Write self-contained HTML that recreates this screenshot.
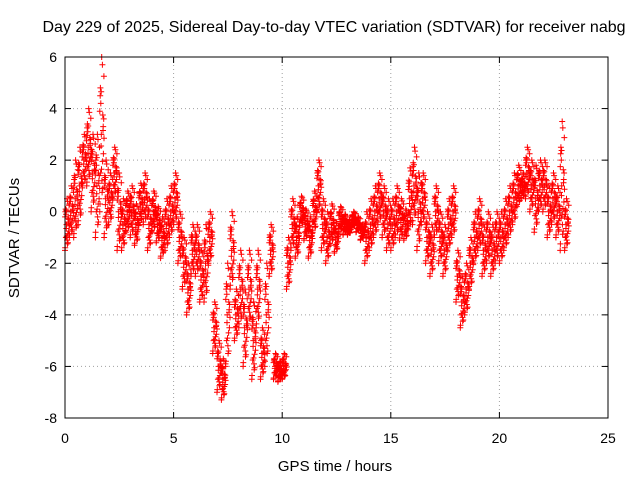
<!DOCTYPE html>
<html><head><meta charset="utf-8"><style>
body{margin:0;background:#fff;}
svg{display:block;font-family:"Liberation Sans",sans-serif;}
</style></head><body>
<svg id="chart" width="640" height="480" viewBox="0 0 640 480">
<text x="334" y="32" font-size="16" text-anchor="middle">Day 229 of 2025, Sidereal Day-to-day VTEC variation (SDTVAR) for receiver nabg</text>
<text transform="translate(19,238) rotate(-90)" font-size="15" text-anchor="middle">SDTVAR / TECUs</text>
<text x="335" y="471" font-size="15" text-anchor="middle">GPS time / hours</text>
<g id="grid"></g>
<g id="ticks"></g>
<path id="marks" fill="none" stroke="#ff0000" stroke-width="1"></path>
<rect x="65" y="57" width="543" height="361" fill="none" stroke="#000" stroke-width="1"></rect>
</svg>
<script>
const xTicks=[0,5,10,15,20,25];
const yTicks=[-8,-6,-4,-2,0,2,4,6];
const times=[];
for(let i=0;i<=115;i++)times.push(+(i*0.2).toFixed(1));
const centers=[-0.5,0,0.5,1,2,2.5,1.5,1,3,0.5,0.5,1.5,0,-0.5,0,0,-0.5,0.3,0.5,-0.5,0,-0.5,-1,-0.5,0,0.5,-1,-2,-3,-1.5,-1.5,-2.5,-2,-1,-4.5,-6,-6.5,-4,-1.5,-4,-3,-4.5,-3,-5,-3,-5.5,-4,-1.5,-6,-6.2,-6,-2,-0.5,-1,0,-0.5,-1,0,1,-0.5,-1,-0.5,-1,-0.3,-0.5,-0.6,-0.3,-0.5,-0.8,-1,-0.5,0,0.5,0,-0.5,-0.5,0,-0.3,-0.5,0.5,1,0,0.5,-1,-1.5,0,-1,-1.5,-0.5,0,-2.5,-3.5,-3,-2,-1,-0.5,-1.5,-1,-1.5,-1,-1,-0.5,0,0.5,1,1,1.5,1,0.5,1,1,0,0.5,0,1,-0.5];
const spreads=[1,1,1.5,1.5,1,1.5,1.5,2,3,1.5,1,1,1.5,1,0.8,1,0.8,0.8,1,1,0.8,0.7,0.8,1,1,1,1,1,1,1,1,1,1.5,1,1,1,0.8,2,1.5,1,1.5,1.5,1.5,1.5,1.5,1,2,1,0.5,0.4,0.5,1,1,0.8,0.6,0.6,0.8,0.8,1,1,1,0.8,0.6,0.5,0.4,0.3,0.3,0.3,0.3,1,1,1,1,1,1,1,1,0.8,0.6,1.2,1.5,1.5,1,1,1,1,1,1,1,1,1,1,1,1,1,1,1,1,1,1,1,1,1,1,0.8,0.5,1,1,1.3,1,1,1,1,1,2.5,1];
const X0=65,X1=608,Y0=418,Y1=57;
const xs=v=>X0+(v-0)/(25-0)*(X1-X0);
const ys=v=>Y0-(v+8)/(14)*(Y0-Y1);
const ns="http://www.w3.org/2000/svg";
const grid=document.getElementById('grid'),ticks=document.getElementById('ticks');
function line(p,x1,y1,x2,y2,dash,name){const l=document.createElementNS(ns,'line');
l.setAttribute('x1',x1);l.setAttribute('y1',y1);l.setAttribute('x2',x2);l.setAttribute('y2',y2);
l.setAttribute('stroke',dash?'#a0a0a0':'#000');l.setAttribute('stroke-width','1');if(dash)l.setAttribute('stroke-dasharray','1,3');


p.appendChild(l);}
function txt(x,y,s,anchor,name){const t=document.createElementNS(ns,'text');t.setAttribute('x',x);t.setAttribute('y',y);
t.setAttribute('font-size','14');t.setAttribute('text-anchor',anchor);t.textContent=s;


ticks.appendChild(t);}
xTicks.forEach(v=>{const x=xs(v);if(v>0&&v<25)line(grid,x,Y1,x,Y0,true,'x-gridline');
line(ticks,x,Y0,x,Y0-6,false,'x-tick');line(ticks,x,Y1,x,Y1+6,false,'x-tick');txt(x,Y0+25,String(v),'middle','x-tick-label');});
yTicks.forEach(v=>{const y=ys(v);if(v>-8&&v<6)line(grid,X0,y,X1,y,true,'y-gridline');
line(ticks,X0,y,X0+6,y,false,'y-tick');line(ticks,X1,y,X1-6,y,false,'y-tick');txt(X0-8,y+5,String(v),'end','y-tick-label');});
const fr=[0,0.55,0.2,0.85,0.35,0.7,0.1,0.95,0.45,0.65,0.25,0.8,0.05,0.5,0.3,0.9,0.15,0.6,0.4,0.75,0.02,0.98,0.33,0.68];
const off=[-1,-0.75,-0.5,-0.25,0,0.25,0.5,0.75,1,-0.35,0.4,0.1,-0.9,-0.6,-0.15,0.2,0.6,0.9,-0.45,0.05,0.3,-0.05,0.55,-0.7];
let d='';
for(let i=0;i<times.length;i++){
  for(let k=0;k<off.length;k++){
    const x=xs(times[i]+fr[k]*0.2), y=ys(centers[i]+off[k]*spreads[i]);
    if(x>X1-1||y<Y1||y>Y0)continue;
    d+=`M${(x-3).toFixed(1)} ${y.toFixed(1)}h6M${x.toFixed(1)} ${(y-3).toFixed(1)}v6`;
  }
}
document.getElementById('marks').setAttribute('d',d);
</script>
</body></html>
